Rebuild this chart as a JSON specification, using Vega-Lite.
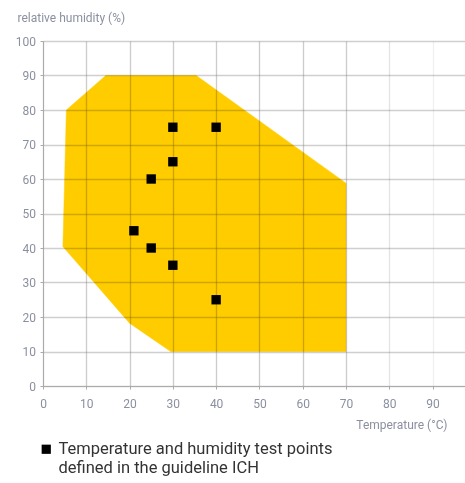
{
  "$schema": "https://vega.github.io/schema/vega-lite/v6.json",
  "width": 422,
  "height": 345,
  "autosize": {"type": "none"},
  "padding": {"left": 43, "top": 41, "right": 0, "bottom": 97},
  "config": {
    "view": {"stroke": null},
    "font": "Roboto, sans-serif"
  },
  "datasets": {
    "zone": [
      {"i": 1, "t": 5.4, "rh": 80},
      {"i": 2, "t": 14.5, "rh": 90},
      {"i": 3, "t": 35.4, "rh": 90},
      {"i": 4, "t": 70, "rh": 58.8},
      {"i": 5, "t": 70, "rh": 10},
      {"i": 6, "t": 29.5, "rh": 10},
      {"i": 7, "t": 20, "rh": 18.2},
      {"i": 8, "t": 4.6, "rh": 40.4}
    ],
    "points": [
      {"t": 30, "rh": 75, "series": "Temperature and humidity test points|defined in the guideline ICH"},
      {"t": 40, "rh": 75, "series": "Temperature and humidity test points|defined in the guideline ICH"},
      {"t": 30, "rh": 65, "series": "Temperature and humidity test points|defined in the guideline ICH"},
      {"t": 25, "rh": 60, "series": "Temperature and humidity test points|defined in the guideline ICH"},
      {"t": 21, "rh": 45, "series": "Temperature and humidity test points|defined in the guideline ICH"},
      {"t": 25, "rh": 40, "series": "Temperature and humidity test points|defined in the guideline ICH"},
      {"t": 30, "rh": 35, "series": "Temperature and humidity test points|defined in the guideline ICH"},
      {"t": 40, "rh": 25, "series": "Temperature and humidity test points|defined in the guideline ICH"}
    ]
  },
  "encoding": {
    "x": {
      "field": "t",
      "type": "quantitative",
      "scale": {"domain": [0, 97.5], "nice": false},
      "axis": {
        "values": [0, 10, 20, 30, 40, 50, 60, 70, 80, 90],
        "labelFlush": false,
        "title": "Temperature (°C)",
        "titleX": 404,
        "titleY": 42,
        "titleAlign": "right",
        "titleAnchor": "end",
        "titleBaseline": "alphabetic",
        "titleFontSize": 12,
        "titleFontWeight": "normal",
        "titleColor": "#8a90a0",
        "labelFontSize": 12,
        "labelColor": "#8a90a0",
        "labelPadding": 9,
        "tickSize": 3,
        "tickColor": "#aaaaaa",
        "domainColor": "#aaaaaa",
        "gridColor": "#808080",
        "gridWidth": 1.3,
        "gridOpacity": {"condition": [{"test": "datum.value >= 90", "value": 0.12}, {"test": "datum.value >= 80", "value": 0.22}], "value": 0.4}
      }
    },
    "y": {
      "field": "rh",
      "type": "quantitative",
      "scale": {"domain": [0, 100], "nice": false},
      "axis": {
        "values": [0, 10, 20, 30, 40, 50, 60, 70, 80, 90, 100],
        "labelFlush": false,
        "title": "relative humidity (%)",
        "titleAngle": 0,
        "titleX": -26,
        "titleY": -20,
        "titleAlign": "left",
        "titleBaseline": "alphabetic",
        "titleFontSize": 12,
        "titleFontWeight": "normal",
        "titleColor": "#8a90a0",
        "labelFontSize": 12,
        "labelColor": "#8a90a0",
        "labelPadding": 4.5,
        "tickSize": 3,
        "tickColor": "#aaaaaa",
        "domainColor": "#aaaaaa",
        "gridColor": "#808080",
        "gridWidth": 1.3,
        "gridOpacity": 0.38
      }
    }
  },
  "layer": [
    {
      "data": {"name": "zone"},
      "mark": {"type": "line", "interpolate": "linear-closed", "fill": "#FFCC00", "stroke": "#FFCC00", "strokeWidth": 0.5, "blend": "multiply"},
      "encoding": {"order": {"field": "i", "type": "quantitative"}}
    },
    {
      "data": {"name": "points"},
      "mark": {"type": "point", "shape": "square", "filled": true, "size": 88, "opacity": 1},
      "encoding": {
        "color": {"value": "#000000"},
        "shape": {
          "field": "series",
          "type": "nominal",
          "scale": {"range": ["square"]},
          "legend": {
            "orient": "none",
            "legendX": -5,
            "legendY": 400,
            "title": null,
            "padding": 0,
            "labelExpr": "split(datum.label, '|')",
            "labelFontSize": 16.5,
            "labelColor": "#333333",
            "labelOffset": 4,
            "labelLimit": 400,
            "symbolSize": 85,
            "symbolFillColor": "#000000",
            "symbolStrokeWidth": 0,
            "symbolType": "square"
          }
        }
      }
    }
  ]
}
